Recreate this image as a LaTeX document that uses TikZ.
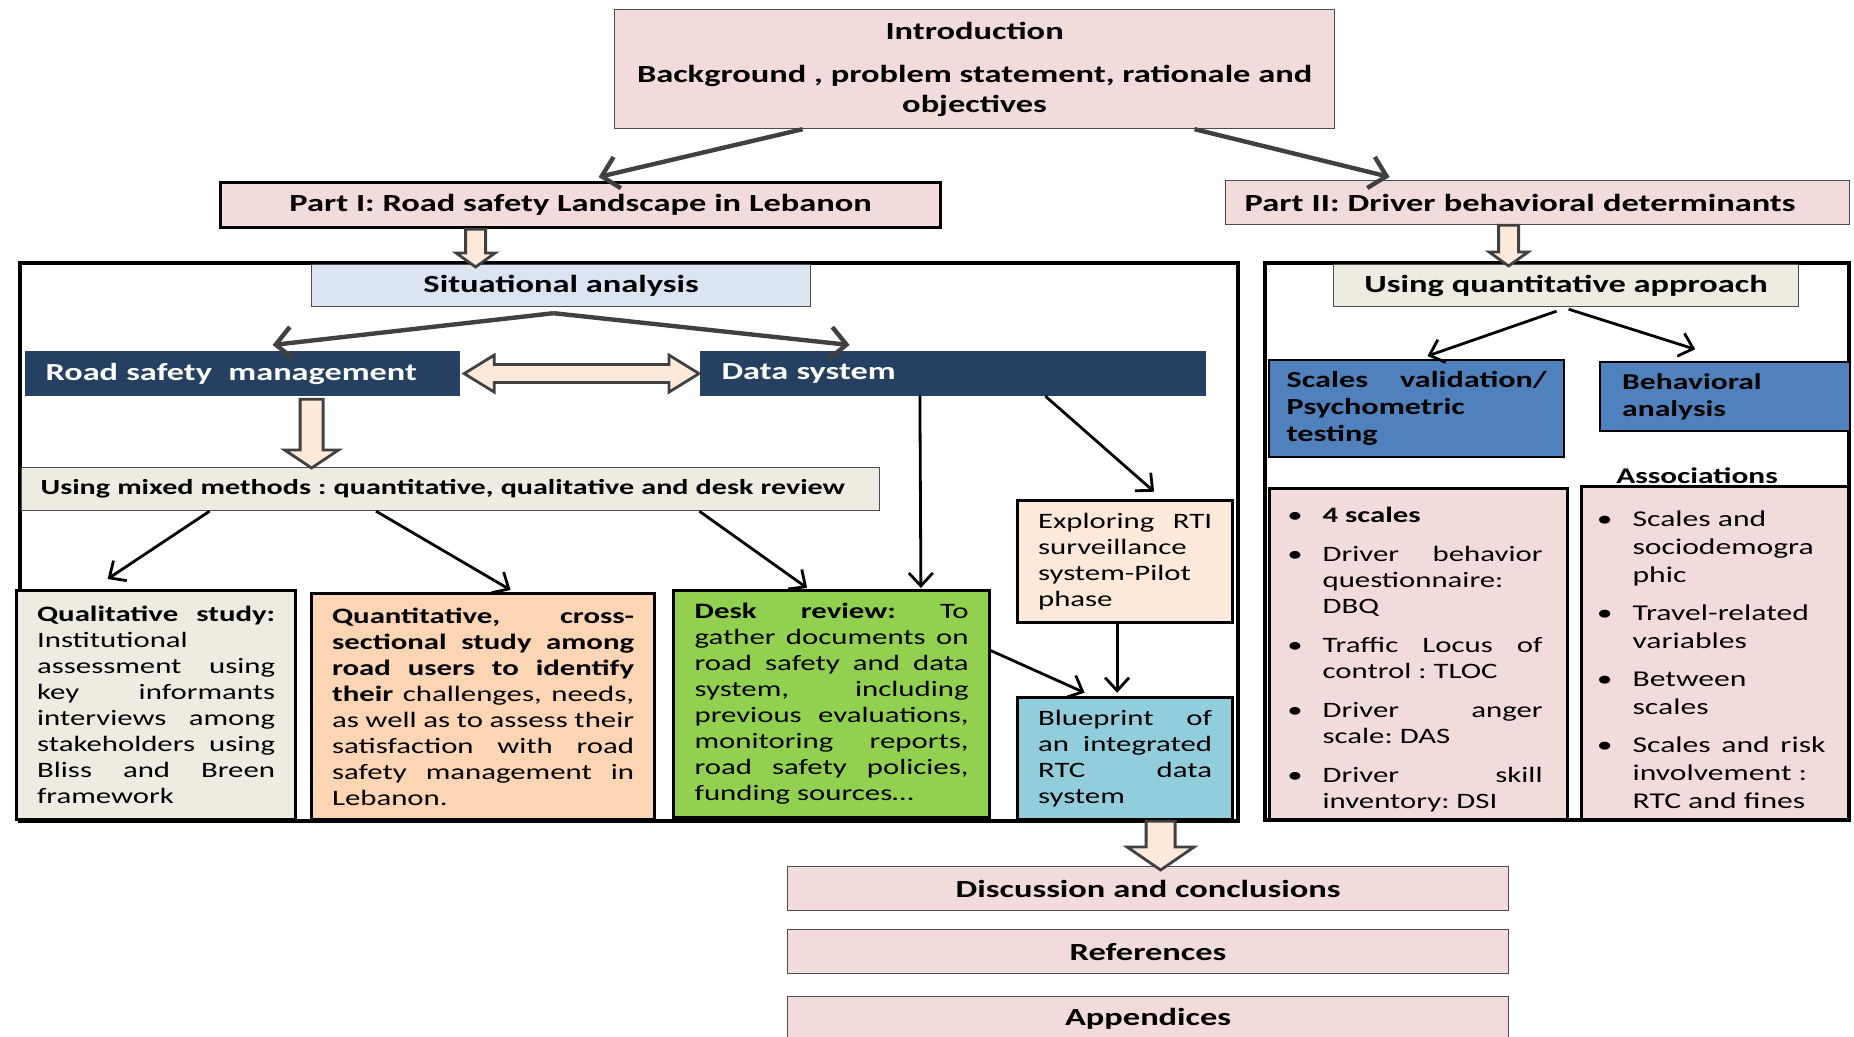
\documentclass[tikz,border=0pt]{standalone}
\usepackage{fontspec}
\setmainfont{Carlito}[FakeStretch=1.4]
\usepackage{enumitem}
\usetikzlibrary{arrows.meta,calc,positioning}

\definecolor{pinkfill}{HTML}{F2DCDB}
\definecolor{skyfill}{HTML}{DBE5F1}
\definecolor{navyfill}{HTML}{254061}
\definecolor{beigefill}{HTML}{EEECE1}
\definecolor{peachfill}{HTML}{FCD5B5}
\definecolor{greenfill}{HTML}{92D050}
\definecolor{creamfill}{HTML}{FDE9D9}
\definecolor{aquafill}{HTML}{92CDDC}
\definecolor{bluefill}{HTML}{4F81BD}
\definecolor{arrowgray}{HTML}{404040}

\setlist[itemize]{label=\textbullet,leftmargin=14pt,labelsep=10pt,itemsep=6.5pt,topsep=0pt,parsep=0pt,partopsep=0pt}

\newcommand\blockdown[5]{%
  \filldraw[blockarrow] let \p1=#1, \p2=#2 in
    (\x1-#3,\y1) -- (\x1-#3,\y2+#5) -- (\x1-#4,\y2+#5) -- (\x1,\y2)
    -- (\x1+#4,\y2+#5) -- (\x1+#3,\y2+#5) -- (\x1+#3,\y1) -- cycle;}

\newcommand\blockboth[5]{%
  \filldraw[blockarrow] let \p1=#1, \p2=#2 in
    (\x1,\y1) -- (\x1+#5,\y1+#4) -- (\x1+#5,\y1+#3) -- (\x2-#5,\y1+#3)
    -- (\x2-#5,\y1+#4) -- (\x2,\y1) -- (\x2-#5,\y1-#4) -- (\x2-#5,\y1-#3)
    -- (\x1+#5,\y1-#3) -- (\x1+#5,\y1-#4) -- cycle;}

\tikzset{
  box/.style={anchor=north west, inner sep=0pt, align=center, line width=0.6pt, draw=black!70},
  heading/.style={font=\bfseries\fontsize{12.3}{14.8}\selectfont},
  body/.style={font=\fontsize{11}{13}\selectfont, align=justify},
  thickbox/.style={box, draw=black, line width=1.6pt},
  frame/.style={anchor=north west, draw=black, line width=2pt, inner sep=0pt},
  bigarrow/.style={draw=arrowgray, line width=2.2pt, -{Straight Barb[length=8pt,width=16pt]}},
  thinarrow/.style={draw=black, line width=1.4pt, -{Straight Barb[length=6.5pt,width=12pt]}},
  blockarrow/.style={draw=arrowgray, fill=creamfill, line width=1.4pt, line join=miter},
}

\begin{document}
\hyphenpenalty=10000
\frenchspacing
\begin{tikzpicture}[x=0.5pt,y=-0.5pt]
\useasboundingbox (0,0) rectangle (1854,1037);

\node[frame, minimum width=609pt, minimum height=279pt] (leftframe) at (18,261) {};
\node[frame, minimum width=292pt, minimum height=278.5pt] (rightframe) at (1263,261) {};

\node[box, heading, fill=pinkfill, minimum width=360pt, minimum height=59.5pt] (intro) at (614,9)
  {Introduction\\[7pt]Background , problem statement, rationale and\\objectives};
\node[thickbox, heading, fill=pinkfill, minimum width=360pt, minimum height=22.5pt] (partI) at (219,181)
  {Part I: Road safety Landscape in Lebanon};
\node[box, heading, fill=pinkfill, minimum width=312pt, minimum height=22pt, text width=293pt, align=left] (partII) at (1225,180)
  {Part II: Driver behavioral determinants};

\node[box, heading, fill=skyfill, minimum width=249.5pt, minimum height=21pt] (sit) at (311,264)
  {Situational analysis};
\node[box, heading, fill=navyfill, draw=navyfill, text=white, font=\bfseries\fontsize{12.25}{14}\selectfont,
  minimum width=217pt, minimum height=22pt, text width=197pt, align=left] (rsm) at (25,351)
  {Road safety\ \ management};
\node[box, heading, fill=navyfill, draw=navyfill, text=white, font=\bfseries\fontsize{12.25}{14}\selectfont,
  minimum width=252.5pt, minimum height=22pt, text width=231.5pt, align=left] (data) at (700,351)
  {Data system};
\node[box, fill=beigefill, font=\bfseries\fontsize{10.75}{13}\selectfont,
  minimum width=429pt, minimum height=21.5pt, text width=410pt, align=left] (mixed) at (21,467)
  {Using mixed methods : quantitative, qualitative and desk review};

\node[thickbox, body, fill=beigefill, minimum width=139.5pt, minimum height=114.5pt, text width=119pt] (qual) at (15,589)
  {\textbf{Qualitative study:}\linebreak Institutional\newline assessment using\linebreak key informants\linebreak
   interviews among\linebreak stakeholders using\linebreak Bliss and Breen\linebreak framework};
\node[thickbox, body, fill=peachfill, minimum width=171.5pt, minimum height=113pt, text width=151pt] (quant) at (310,592)
  {\textbf{Quantitative, cross-}\linebreak \textbf{sectional study among}\linebreak \textbf{road users to identify}\linebreak
   \textbf{their} challenges, needs,\linebreak as well as to assess their\linebreak satisfaction with road\linebreak
   safety management in\linebreak Lebanon.};
\node[thickbox, body, fill=greenfill, minimum width=158pt, minimum height=113.5pt, text width=137pt] (desk) at (672,589)
  {\textbf{Desk review:} To\linebreak gather documents on\linebreak road safety and data\linebreak system, including\linebreak
   previous evaluations,\linebreak monitoring reports,\linebreak road safety policies,\linebreak funding sources\ldots};
\node[thickbox, body, fill=creamfill, minimum width=107.5pt, minimum height=61pt, text width=87pt] (explore) at (1016,499)
  {Exploring RTI\linebreak surveillance\newline system-Pilot\newline phase};
\node[thickbox, body, fill=aquafill, minimum width=107.5pt, minimum height=61pt, text width=87pt] (blueprint) at (1016,696)
  {Blueprint of\linebreak an integrated\linebreak RTC data\linebreak system};

\node[box, heading, fill=beigefill, minimum width=232.5pt, minimum height=21pt] (quantapp) at (1333,264)
  {Using quantitative approach};
\node[box, fill=bluefill, draw=black, line width=1.2pt, font=\bfseries\fontsize{11.5}{13.5}\selectfont,
  minimum width=147.5pt, minimum height=48.5pt, text width=130pt, align=justify] (scales) at (1268,359)
  {Scales validation/\linebreak Psychometric\newline testing};
\node[box, fill=bluefill, draw=black, line width=1.2pt, font=\bfseries\fontsize{11.3}{13.5}\selectfont,
  minimum width=125pt, minimum height=34.5pt, text width=103pt, align=left] (behav) at (1599,361)
  {Behavioral\\analysis};
\node[font=\bfseries\fontsize{11.2}{13}\selectfont] (assoclabel) at (1697,476) {Associations};
\node[thickbox, body, fill=pinkfill, minimum width=149pt, minimum height=165.5pt, text width=124pt] (fourscales) at (1268,487)
  {\begin{itemize}
   \item \textbf{4 scales}
   \item Driver behavior\linebreak questionnaire:\newline DBQ
   \item Traffic Locus of\linebreak control : TLOC
   \item Driver anger\linebreak scale: DAS
   \item Driver skill\linebreak inventory: DSI
   \end{itemize}};
\node[thickbox, body, font=\fontsize{11.3}{14}\selectfont, fill=pinkfill, minimum width=133.5pt, minimum height=166.5pt,
  text width=110.5pt] (assoc) at (1580,485)
  {\begin{itemize}[itemsep=5pt]
   \item Scales and\newline sociodemogra\newline phic
   \item Travel-related\newline variables
   \item Between\newline scales
   \item Scales and risk\linebreak involvement :\newline RTC and fines
   \end{itemize}};

\node[box, heading, fill=pinkfill, minimum width=360.5pt, minimum height=22pt] (disc) at (787,866)
  {Discussion and conclusions};
\node[box, heading, fill=pinkfill, minimum width=360.5pt, minimum height=22pt] (refs) at (787,929)
  {References};
\node[box, heading, fill=pinkfill, minimum width=360.5pt, minimum height=22pt] (appx) at (787,996)
  {Appendices};

\draw[bigarrow] ([xshift=-86pt]intro.south) -- ([xshift=9pt,yshift=2pt]partI.north);
\draw[bigarrow] ([xshift=110pt]intro.south) -- ([xshift=-74pt,yshift=1.5pt]partII.north);
\draw[bigarrow] ([xshift=-3.75pt,yshift=-3pt]sit.south) -- ([xshift=15pt,yshift=3pt]rsm.north);
\draw[bigarrow] ([xshift=-3.75pt,yshift=-3pt]sit.south) -- ([xshift=-51.75pt,yshift=3pt]data.north);

\blockdown{([xshift=-52.5pt]partI.south)}{([yshift=-1.5pt]sit.north)}{5pt}{9.75pt}{7pt}
\blockdown{([xshift=-14.5pt]partII.south)}{([yshift=-1pt]quantapp.north)}{5pt}{9.75pt}{7pt}
\blockdown{([xshift=34.5pt,yshift=-1.5pt]rsm.south)}{([yshift=-0.5pt]mixed.north)}{5.75pt}{13.5pt}{9pt}
\blockboth{([xshift=2pt]rsm.east)}{([xshift=-0.5pt]data.west)}{4.5pt}{9.25pt}{15pt}
\blockdown{([xshift=17.75pt]blueprint.south)}{([yshift=-2pt]disc.north)}{7.25pt}{16.75pt}{11.5pt}

\draw[thinarrow] ([xshift=-120.5pt]mixed.south) -- ([xshift=-24.25pt,yshift=5pt]qual.north);
\draw[thinarrow] ([xshift=-37.3pt]mixed.south) -- ([xshift=13.75pt,yshift=1pt]quant.north);
\draw[thinarrow] ([xshift=124.35pt]mixed.south) -- ([xshift=-12.25pt,yshift=0.5pt]desk.north);
\draw[thinarrow] ([xshift=-16.6pt]data.south) -- ([xshift=44.65pt,yshift=0.5pt]desk.north);
\draw[thinarrow] ([xshift=46.15pt]data.south) -- ([xshift=14.5pt,yshift=3.65pt]explore.north);
\draw[thinarrow] ([xshift=-4pt]explore.south) -- ([xshift=-4pt,yshift=1.65pt]blueprint.north);
\draw[thinarrow] ([xshift=-1pt,yshift=27.1pt]desk.east) -- ([xshift=-20.25pt,yshift=1.65pt]blueprint.north);
\draw[thinarrow] ([xshift=-4.8pt,yshift=-2pt]quantapp.south) -- ([xshift=5.4pt,yshift=1.5pt]scales.north);
\draw[thinarrow] ([xshift=1.25pt,yshift=-1pt]quantapp.south) -- ([xshift=-15pt,yshift=5.85pt]behav.north);
\end{tikzpicture}
\end{document}
